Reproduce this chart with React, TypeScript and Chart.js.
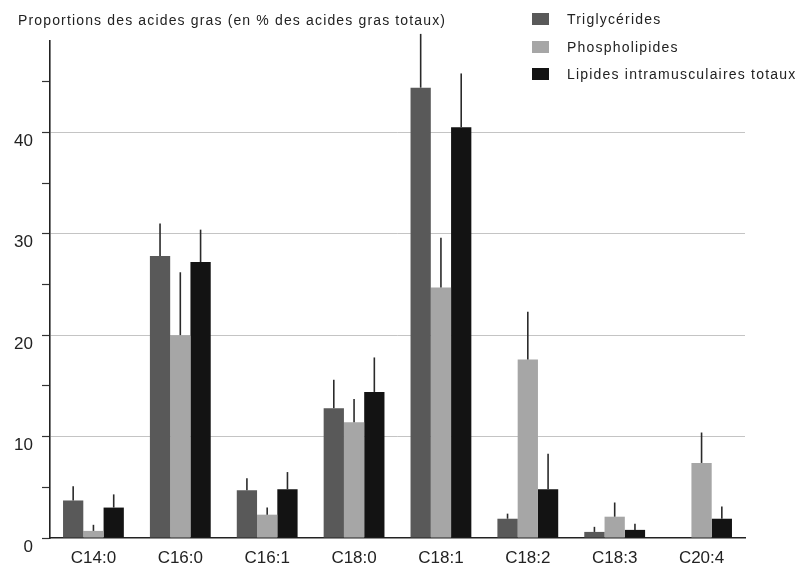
import React, { useEffect, useRef } from "react";
import { Chart, registerables } from "chart.js";

Chart.register(...registerables);

// Fatty acids on the x axis
const categories = ["C14:0", "C16:0", "C16:1", "C18:0", "C18:1", "C18:2", "C18:3", "C20:4"];

// Mean proportions (% of total fatty acids) and their standard deviations
const triglycerides = [3.7, 27.8, 4.7, 12.8, 44.4, 1.9, 0.6, 0];
const triglyceridesSd = [1.4, 3.2, 1.2, 2.8, 5.3, 0.5, 0.5, 0];

const phospholipids = [0.7, 20.0, 2.3, 11.4, 24.7, 17.6, 2.1, 7.4];
const phospholipidsSd = [0.6, 6.2, 0.7, 2.3, 4.9, 4.7, 1.4, 3.0];

const totalLipids = [3.0, 27.2, 4.8, 14.4, 40.5, 4.8, 0.8, 1.9];
const totalLipidsSd = [1.3, 3.2, 1.7, 3.4, 5.3, 3.5, 0.6, 1.2];

const seriesLabels = ["Triglycérides", "Phospholipides", "Lipides intramusculaires totaux"];
const seriesColors = ["#595959", "#a6a6a6", "#131313"];
const seriesSd = [triglyceridesSd, phospholipidsSd, totalLipidsSd];

const titleText = "Proportions des acides gras (en % des acides gras totaux)";

const FONT = "'Liberation Sans', Arial, sans-serif";

// Upward-only error bars drawn on top of each bar
const errorBars = {
  id: "errorBars",
  afterDatasetsDraw(chart: any) {
    const { ctx } = chart;
    const yScale = chart.scales.y;
    ctx.save();
    ctx.strokeStyle = "#2a2a2a";
    ctx.lineWidth = 1.6;
    chart.data.datasets.forEach((ds: any, i: number) => {
      const meta = chart.getDatasetMeta(i);
      const sd = seriesSd[i];
      meta.data.forEach((bar: any, j: number) => {
        const v = ds.data[j];
        const e = sd[j];
        if (!v || !e) return;
        const yTop = yScale.getPixelForValue(v + e);
        ctx.beginPath();
        ctx.moveTo(bar.x, bar.y);
        ctx.lineTo(bar.x, yTop);
        ctx.stroke();
      });
    });
    ctx.restore();
  },
};

export default function App() {
  const canvasRef = useRef<HTMLCanvasElement | null>(null);

  useEffect(() => {
    if (!canvasRef.current) return;
    const chart = new Chart(canvasRef.current, {
      type: "bar",
      data: {
        labels: categories,
        datasets: [triglycerides, phospholipids, totalLipids].map((d, i) => ({
          label: seriesLabels[i],
          data: d,
          backgroundColor: seriesColors[i],
          borderWidth: 0,
          categoryPercentage: 0.7,
          barPercentage: 1.0,
        })),
      },
      options: {
        responsive: false,
        animation: false,
        layout: { padding: { top: 41, right: 53, left: 0, bottom: 0 } },
        plugins: {
          legend: { display: false },
          title: { display: false },
          tooltip: { enabled: false },
        },
        scales: {
          x: {
            afterFit: (s: any) => {
              s.height = 29;
            },
            grid: { display: false },
            border: { display: true, color: "#222", width: 1.6 },
            ticks: {
              padding: 2,
              color: "#222",
              font: { family: FONT, size: 17 },
            },
          },
          y: {
            min: 0,
            max: 49,
            afterFit: (s: any) => {
              s.width = 50;
            },
            border: { display: true, color: "#222", width: 1.6 },
            grid: {
              drawTicks: true,
              tickLength: 8,
              lineWidth: 1,
              tickWidth: 1.2,
              tickColor: "#333",
              color: (c: any) =>
                c.tick && c.tick.value > 0 && c.tick.value % 10 === 0
                  ? "#c4c4c4"
                  : "rgba(0,0,0,0)",
            },
            ticks: {
              stepSize: 5,
              includeBounds: false,
              padding: 9,
              labelOffset: 9,
              color: "#222",
              font: { family: FONT, size: 17 },
              callback: (v: any) => (Number(v) % 10 === 0 ? String(v) : ""),
            },
          },
        },
      },
      plugins: [errorBars],
    });
    return () => chart.destroy();
  }, []);

  return (
    <div
      style={{
        position: "absolute",
        left: 0,
        top: 0,
        width: 798,
        height: 567,
        background: "#fff",
        fontFamily: FONT,
        color: "#222",
      }}
    >
      <canvas ref={canvasRef} width={798} height={567} style={{ display: "block" }} />
      <div
        style={{
          position: "absolute",
          left: 18,
          top: 11,
          fontSize: 14,
          letterSpacing: "1.15px",
          whiteSpace: "nowrap",
          lineHeight: "18px",
        }}
      >
        {titleText}
      </div>
      {seriesLabels.map((label, i) => (
        <div
          key={label}
          style={{
            position: "absolute",
            left: 532,
            top: 9 + i * 27.5,
            height: 20,
            display: "flex",
            alignItems: "center",
            whiteSpace: "nowrap",
          }}
        >
          <span
            style={{
              display: "inline-block",
              width: 17,
              height: 12,
              background: seriesColors[i],
              marginRight: 18,
            }}
          />
          <span style={{ fontSize: 14, letterSpacing: "1.2px" }}>{label}</span>
        </div>
      ))}
    </div>
  );
}
